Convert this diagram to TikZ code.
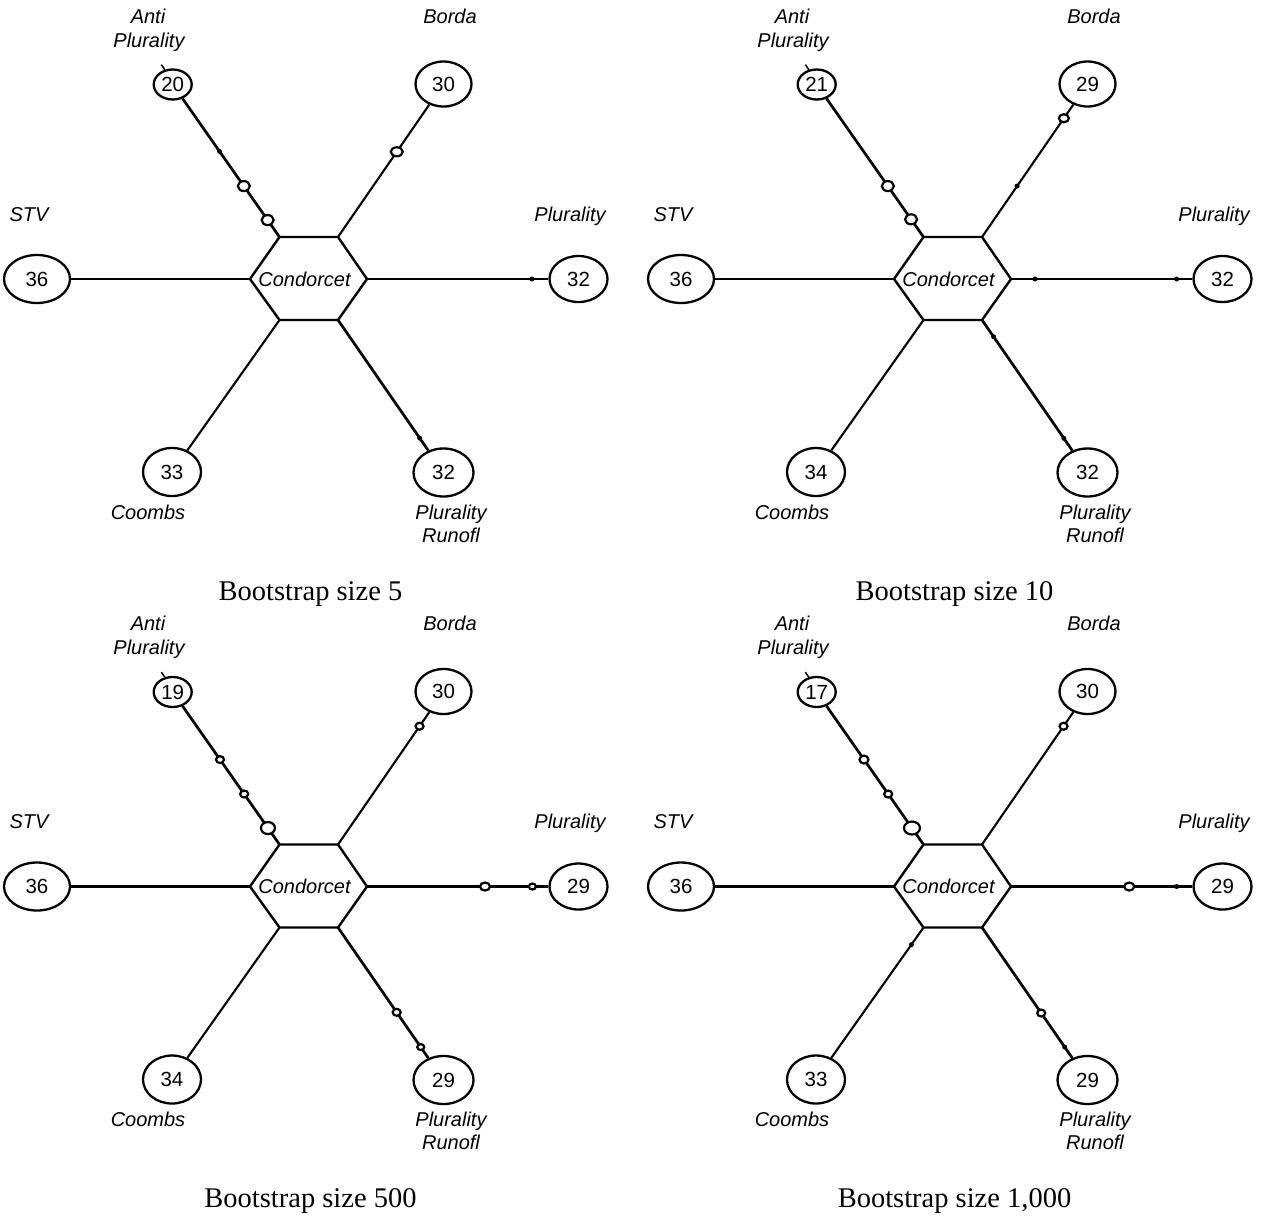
\documentclass[tikz,border=0pt]{standalone}
\usepackage{fontspec}
\setmainfont{Liberation Serif}
\newfontfamily\arialf{Liberation Sans}
\usetikzlibrary{shapes.geometric,calc}
\newcommand\nbfont{\fontsize{20.5}{24}\selectfont\arialf}
\newcommand\lbfont{\fontsize{20}{24}\selectfont\arialf\itshape}
\newcommand\cpfont{\fontsize{28.5}{34}\selectfont}
\tikzset{
  spoke/.style={line width=2.1pt},
  thick spoke/.style={line width=2.7pt},
  hexline/.style={line width=2.4pt, line join=miter},
  ell/.style={ellipse, draw, line width=2.3pt, inner sep=0pt, font=\nbfont, fill=white},
  lab/.style={font=\lbfont, inner sep=0pt, anchor=base},
  captxt/.style={font=\cpfont, inner sep=0pt, anchor=base},
  oc/.style={ellipse, draw, line width=2.2pt, fill=white, inner sep=0pt},
  dt/.style={circle, fill=black, inner sep=0pt, minimum size=5pt},
}
\newcommand\mk[6]{\node[oc, minimum width=#5pt, minimum height=#6pt] (#1) at ($(#2)!#4!(#3.center)$) {};}
\newcommand\mdot[4]{\node[dt] (#1) at ($(#2)!#4!(#3.center)$) {};}
\newcommand\panel[7]{%
  \coordinate (#1-v1) at (279.5,237);
  \coordinate (#1-v2) at (338,237);
  \coordinate (#1-v3) at (367,279);
  \coordinate (#1-v4) at (338,320);
  \coordinate (#1-v5) at (279.5,320);
  \coordinate (#1-v6) at (250,279);
  \node[lab] (#1-h) at (304.5,286) {Condorcet};
  \node[ell, minimum width=38pt, minimum height=30pt] (#1-an) at (172.7,84.5) {#2};
  \node[ell, minimum width=56pt, minimum height=45pt] (#1-bo) at (443.5,84) {#3};
  \node[ell, minimum width=58pt, minimum height=46pt] (#1-pl) at (578.5,279) {#4};
  \node[ell, minimum width=60pt, minimum height=48pt] (#1-pr) at (443.5,472.5) {#5};
  \node[ell, minimum width=58pt, minimum height=48pt] (#1-co) at (172,472) {#6};
  \node[ell, minimum width=66pt, minimum height=48pt] (#1-st) at (37,279) {36};
  \draw[hexline] (#1-v1) -- (#1-v2) -- (#1-v3) -- (#1-v4) -- (#1-v5) -- (#1-v6) -- cycle;
  \draw[thick spoke] (#1-v1) -- (#1-an);
  \draw[spoke] (#1-v2) -- (#1-bo);
  \draw[thick spoke] (#1-v3) -- (#1-pl);
  \draw[thick spoke] (#1-v4) -- (#1-pr);
  \draw[spoke] (#1-v5) -- (#1-co);
  \draw[spoke] (#1-v6) -- (#1-st);
  \draw[line width=1.5pt] (#1-an.118) -- ++(-3.5,-5);
  \node[lab] (#1-l1) at (148,23) {Anti};
  \node[lab] (#1-l2) at (149,47) {Plurality};
  \node[lab] (#1-l3) at (450,23) {Borda};
  \node[lab] (#1-l4) at (29,221) {STV};
  \node[lab] (#1-l5) at (570,221) {Plurality};
  \node[lab] (#1-l6) at (148,519) {Coombs};
  \node[lab] (#1-l7) at (451,519) {Plurality};
  \node[lab] (#1-l8) at (451,542) {Runofl};
  \node[captxt] (#1-cap) at (310.5,600) {#7};
}
\begin{document}
\begin{tikzpicture}[x=1pt,y=-1pt]
\fill[white] (0,0) rectangle (1263,1216);
\useasboundingbox (0,0) rectangle (1263,1216);
% Panel 1
\begin{scope}
\panel{a}{20}{30}{32}{32}{33}{Bootstrap size 5}
\mdot{a-m1}{a-v1}{a-an}{0.561}
\mk{a-m2}{a-v1}{a-an}{0.334}{12}{10}
\mk{a-m3}{a-v1}{a-an}{0.111}{12}{10}
\mk{a-m4}{a-v2}{a-bo}{0.557}{12}{9}
\mdot{a-m5}{a-v3}{a-pl}{0.779}
\mdot{a-m6}{a-v4}{a-pr}{0.774}
\end{scope}
% Panel 2
\begin{scope}[shift={(644,0)}]
\panel{b}{21}{29}{32}{32}{34}{Bootstrap size 10}
\mk{b-m1}{b-v1}{b-an}{0.334}{12}{10}
\mk{b-m2}{b-v1}{b-an}{0.116}{12}{10}
\mk{b-m3}{b-v2}{b-bo}{0.776}{10}{8}
\mdot{b-m4}{b-v2}{b-bo}{0.333}
\mdot{b-m5}{b-v3}{b-pl}{0.113}
\mdot{b-m6}{b-v3}{b-pl}{0.783}
\mdot{b-m7}{b-v4}{b-pr}{0.110}
\mdot{b-m8}{b-v4}{b-pr}{0.776}
\end{scope}
% Panel 3
\begin{scope}[shift={(0,607.5)}]
\panel{c}{19}{30}{29}{29}{34}{Bootstrap size 500}
\mk{c-m1}{c-v1}{c-an}{0.557}{8}{7}
\mk{c-m2}{c-v1}{c-an}{0.331}{8}{7}
\mk{c-m3}{c-v1}{c-an}{0.108}{14}{12}
\mk{c-m4}{c-v2}{c-bo}{0.773}{8}{7}
\mk{c-m5}{c-v3}{c-pl}{0.558}{10}{8}
\mk{c-m6}{c-v3}{c-pl}{0.782}{7}{6}
\mk{c-m7}{c-v4}{c-pr}{0.556}{8}{7}
\mk{c-m8}{c-v4}{c-pr}{0.784}{7}{6}
\end{scope}
% Panel 4
\begin{scope}[shift={(644,607.5)}]
\panel{d}{17}{30}{29}{29}{33}{Bootstrap size 1,000}
\mk{d-m1}{d-v1}{d-an}{0.557}{9}{8}
\mk{d-m2}{d-v1}{d-an}{0.331}{8}{7}
\mk{d-m3}{d-v1}{d-an}{0.108}{16}{13}
\mk{d-m4}{d-v2}{d-bo}{0.773}{8}{7}
\mk{d-m5}{d-v3}{d-pl}{0.559}{10}{8}
\mdot{d-m6}{d-v3}{d-pl}{0.783}
\mk{d-m7}{d-v4}{d-pr}{0.561}{8}{7}
\mdot{d-m8}{d-v4}{d-pr}{0.784}
\mdot{d-m9}{d-v5}{d-co}{0.113}
\end{scope}
\end{tikzpicture}
\end{document}
